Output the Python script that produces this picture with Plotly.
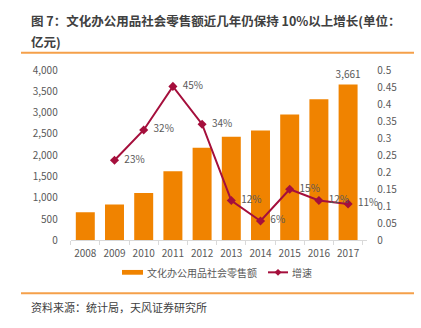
import plotly.graph_objects as go

years = ["2008", "2009", "2010", "2011", "2012", "2013", "2014", "2015", "2016", "2017"]
sales = [663, 843, 1112, 1622, 2175, 2431, 2580, 2955, 3315, 3661]
growth_years = ["2009", "2010", "2011", "2012", "2013", "2014", "2015", "2016", "2017"]
growth = [0.235, 0.324, 0.452, 0.341, 0.117, 0.057, 0.150, 0.117, 0.107]
growth_labels = ["23%", "32%", "45%", "34%", "12%", "6%", "15%", "12%", "11%"]
bar_labels = [""] * 9 + ["3,661"]
left_ticks = [0, 500, 1000, 1500, 2000, 2500, 3000, 3500, 4000]
right_ticks = [0, 0.05, 0.1, 0.15, 0.2, 0.25, 0.3, 0.35, 0.4, 0.45, 0.5]
right_tick_text = ["0", "0.05", "0.1", "0.15", "0.2", "0.25", "0.3", "0.35", "0.4", "0.45", "0.5"]
legend_names = ["文化办公用品社会零售额", "增速"]

FONT = "Noto Sans CJK SC"
GRAY = "#595959"
ORANGE = "#F08300"
RED = "#A50F3C"


def px(x):
    return x / 421


def py(y):
    return (328 - y) / 328


fig = go.Figure()
fig.add_trace(go.Bar(
    x=years, y=sales, name=legend_names[0],
    marker=dict(color=ORANGE, line=dict(width=0)),
    text=bar_labels, textposition="outside", cliponaxis=False, constraintext="none",
    textfont=dict(size=10, color=GRAY, family=FONT),
    width=0.65, showlegend=False,
))
fig.add_trace(go.Scatter(
    x=growth_years, y=growth, name=legend_names[1], yaxis="y2",
    mode="lines+markers+text",
    line=dict(color=RED, width=2),
    marker=dict(symbol="diamond", size=7, color=RED),
    text=["  " + t for t in growth_labels], textposition="middle right",
    textfont=dict(size=10, color=GRAY, family=FONT),
    cliponaxis=False, showlegend=False,
))

ydom = [py(243.5), py(65)]
ly = 277
shapes = [
    dict(type="line", xref="paper", yref="paper", x0=px(21), x1=px(414),
         y0=py(47), y1=py(47), line=dict(color="#F5A04A", width=2)),
    dict(type="line", xref="paper", yref="paper", x0=px(21), x1=px(414),
         y0=py(299), y1=py(299), line=dict(color="#F5A04A", width=2)),
    dict(type="rect", xref="paper", yref="paper", x0=px(122), x1=px(143),
         y0=py(279.5), y1=py(274.5), fillcolor=ORANGE, line=dict(width=0)),
    dict(type="line", xref="paper", yref="paper", x0=px(268), x1=px(288),
         y0=py(ly), y1=py(ly), line=dict(color=RED, width=2)),
    dict(type="path", xref="paper", yref="paper",
         path=f"M {px(278)},{py(ly-3.5)} L {px(281.5)},{py(ly)} L {px(278)},{py(ly+3.5)} L {px(274.5)},{py(ly)} Z",
         fillcolor=RED, line=dict(width=0)),
]

fig.update_layout(
    width=421, height=328,
    margin=dict(l=0, r=0, t=0, b=0),
    paper_bgcolor="white", plot_bgcolor="white",
    font=dict(family=FONT, size=10, color=GRAY),
    showlegend=False,
    bargap=0.35,
    xaxis=dict(domain=[px(70.7), px(367.3)], type="category", tickangle=0,
               showline=True, linecolor="#D9D9D9", linewidth=1,
               ticks="outside", tickson="boundaries", ticklen=4, tickcolor="#D9D9D9",
               ticklabelstandoff=4,
               tickfont=dict(size=10, color=GRAY), showgrid=False),
    yaxis=dict(domain=ydom, range=[0, 4000], tickvals=left_ticks, tickformat=",",
               showgrid=False, zeroline=False, showline=False, ticks="",
               ticklabelstandoff=12,
               tickfont=dict(size=10, color=GRAY)),
    yaxis2=dict(overlaying="y", side="right", range=[0, 0.5], tickvals=right_ticks,
                ticktext=right_tick_text, showgrid=False, zeroline=False, showline=False,
                ticklabelstandoff=9,
                tickfont=dict(size=10, color=GRAY), anchor="x"),
    shapes=shapes,
    annotations=[
        dict(text="<b>图 7：文化办公用品社会零售额近几年仍保持 10%以上增长(单位：</b>",
             xref="paper", yref="paper", x=px(29), y=py(13),
             xanchor="left", yanchor="middle", showarrow=False,
             font=dict(size=12.5, color="#404040", family=FONT)),
        dict(text="<b>亿元)</b>",
             xref="paper", yref="paper", x=px(29), y=py(35),
             xanchor="left", yanchor="middle", showarrow=False,
             font=dict(size=12.5, color="#404040", family=FONT)),
        dict(text=legend_names[0], xref="paper", yref="paper", x=px(145), y=py(ly),
             xanchor="left", yanchor="middle", showarrow=False,
             font=dict(size=10, color=GRAY, family=FONT)),
        dict(text=legend_names[1], xref="paper", yref="paper", x=px(290), y=py(ly),
             xanchor="left", yanchor="middle", showarrow=False,
             font=dict(size=10, color=GRAY, family=FONT)),
        dict(text="资料来源：统计局，天风证券研究所",
             xref="paper", yref="paper", x=px(29), y=py(313),
             xanchor="left", yanchor="middle", showarrow=False,
             font=dict(size=11, color="#404040", family=FONT)),
    ],
)

fig.write_html("out.html")
